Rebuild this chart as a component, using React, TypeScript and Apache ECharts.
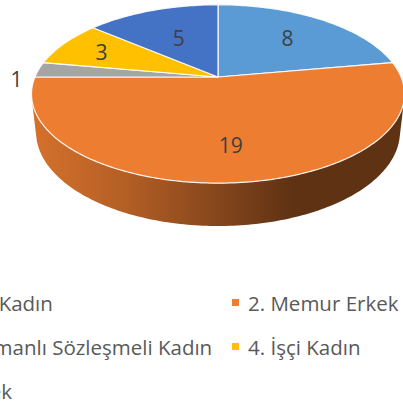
import React, { useEffect, useRef } from "react";
import * as echarts from "echarts";

// ---- data ----
const categories = [
  "1. Memur Kadın",
  "2. Memur Erkek",
  "3. Tam Zamanlı Sözleşmeli Kadın",
  "4. İşçi Kadın",
  "5. İşçi Erkek",
];
const values = [8, 19, 1, 3, 5];
const colors = ["#5B9BD5", "#ED7D31", "#A5A5A5", "#FFC000", "#4472C4"];

// ---- 3D pie layout (perspective projection) ----
const CX = 218;
const CY = 77;
const FOCAL = 849.5;
const DIST = 4.64;
const TILT = (28 * Math.PI) / 180;
const THICK = 0.2367;
const COS = Math.cos(TILT);
const SIN = Math.sin(TILT);
const STEP = Math.PI / 180;

function proj(X: number, Y: number, Z: number): number[] {
  const yc = Y * COS + Z * SIN;
  const zc = Z * COS - Y * SIN + DIST;
  return [CX + (FOCAL * X) / zc, CY - (FOCAL * yc) / zc];
}
const rim = (t: number, Y = 0, r = 1) => proj(r * Math.sin(t), Y, r * Math.cos(t));

const total = values.reduce((a, b) => a + b, 0);
function sliceAngles(i: number): number[] {
  let s = 0;
  for (let k = 0; k < i; k++) s += values[k];
  return [(s / total) * 2 * Math.PI, ((s + values[i]) / total) * 2 * Math.PI];
}
function arcPts(a0: number, a1: number, Y: number): number[][] {
  const n = Math.max(2, Math.ceil(Math.abs(a1 - a0) / STEP));
  const pts: number[][] = [];
  for (let k = 0; k <= n; k++) pts.push(rim(a0 + ((a1 - a0) * k) / n, Y));
  return pts;
}
function shade(hex: string, k: number): string {
  const n = parseInt(hex.slice(1), 16);
  const r = Math.round(((n >> 16) & 255) * k);
  const g = Math.round(((n >> 8) & 255) * k);
  const b = Math.round((n & 255) * k);
  return `rgb(${r},${g},${b})`;
}

const VIS_L = Math.acos(-1 / (DIST * COS));
const VIS_R = 2 * Math.PI - VIS_L;

const LABEL_FONT = '21px "Open Sans"';
const LEGEND_FONT = '20.5px "Open Sans"';

export default function App() {
  const ref = useRef<HTMLDivElement>(null);
  useEffect(() => {
    if (!ref.current) return;
    const chart = echarts.init(ref.current, undefined, { renderer: "svg" });

    const wallLeft = rim(VIS_R)[0];
    const wallRight = rim(VIS_L)[0];

    const renderWall = (params: any, api: any) => {
      const i = params.dataIndex;
      const [s, e] = sliceAngles(i);
      const a0 = Math.max(s, VIS_L);
      const a1 = Math.min(e, VIS_R);
      if (a1 <= a0) return { type: "group", children: [] };
      const top = arcPts(a0, a1, 0);
      const bottom = arcPts(a1, a0, -THICK);
      const c = colors[i];
      return {
        type: "polygon",
        shape: { points: top.concat(bottom) },
        style: {
          fill: {
            type: "linear",
            x: wallLeft,
            y: 0,
            x2: wallRight,
            y2: 0,
            global: true,
            colorStops: [
              { offset: 0, color: shade(c, 0.9) },
              { offset: 0.25, color: shade(c, 0.76) },
              { offset: 0.7, color: shade(c, 0.4) },
              { offset: 1, color: shade(c, 0.4) },
            ],
          },
          stroke: null,
        },
      };
    };

    const renderTop = (params: any, api: any) => {
      const i = params.dataIndex;
      const v = api.value(0);
      const [s, e] = sliceAngles(i);
      const pts = [[CX, CY]].concat(arcPts(s, e, 0));
      const mid = (s + e) / 2;
      const am = rim(mid);
      const dx = CX - am[0];
      const dy = CY - am[1];
      const len = Math.sqrt(dx * dx + dy * dy) || 1;
      const inside = v / total >= 0.05;
      let lx: number, ly: number, va: string;
      if (inside) {
        lx = am[0] + (38 * dx) / len;
        ly = am[1] + (38 * dy) / len;
        va = "middle";
      } else {
        lx = am[0] - (22 * dx) / len;
        ly = am[1] - (22 * dy) / len;
        va = "top";
      }
      return {
        type: "group",
        children: [
          {
            type: "polygon",
            shape: { points: pts },
            style: { fill: colors[i], stroke: "rgba(255,255,255,0.9)", lineWidth: 1.2, lineJoin: "round" },
          },
          {
            type: "text",
            x: lx,
            y: ly,
            style: {
              text: String(v),
              font: LABEL_FONT,
              fill: "#404040",
              align: "center",
              verticalAlign: va,
            },
            z2: 10,
          },
        ],
      };
    };

    const legendTextX = [-99, 248];
    const legendRowY = [303, 347, 391];
    const legendGraphics: any[] = [];
    categories.forEach((name, i) => {
      const col = i % 2;
      const row = Math.floor(i / 2);
      const tx = legendTextX[col];
      const ty = legendRowY[row];
      legendGraphics.push({
        type: "rect",
        shape: { x: tx - 16, y: ty - 4, width: 7, height: 7 },
        style: { fill: colors[i] },
      });
      legendGraphics.push({
        type: "text",
        x: tx,
        y: ty,
        style: { text: name, font: LEGEND_FONT, fill: "#595959", align: "left", verticalAlign: "middle" },
      });
    });

    chart.setOption({
      animation: false,
      backgroundColor: "#ffffff",
      series: [
        {
          type: "custom",
          name: "walls",
          coordinateSystem: "none",
          silent: true,
          data: values,
          renderItem: renderWall,
          z: 1,
        },
        {
          type: "custom",
          name: "tops",
          coordinateSystem: "none",
          silent: true,
          data: values,
          renderItem: renderTop,
          z: 2,
        },
      ],
      graphic: legendGraphics,
    });
    return () => chart.dispose();
  }, []);
  return (
    <div
      ref={ref}
      style={{ position: "fixed", left: 0, top: 0, width: 403, height: 409, background: "#fff" }}
    />
  );
}
